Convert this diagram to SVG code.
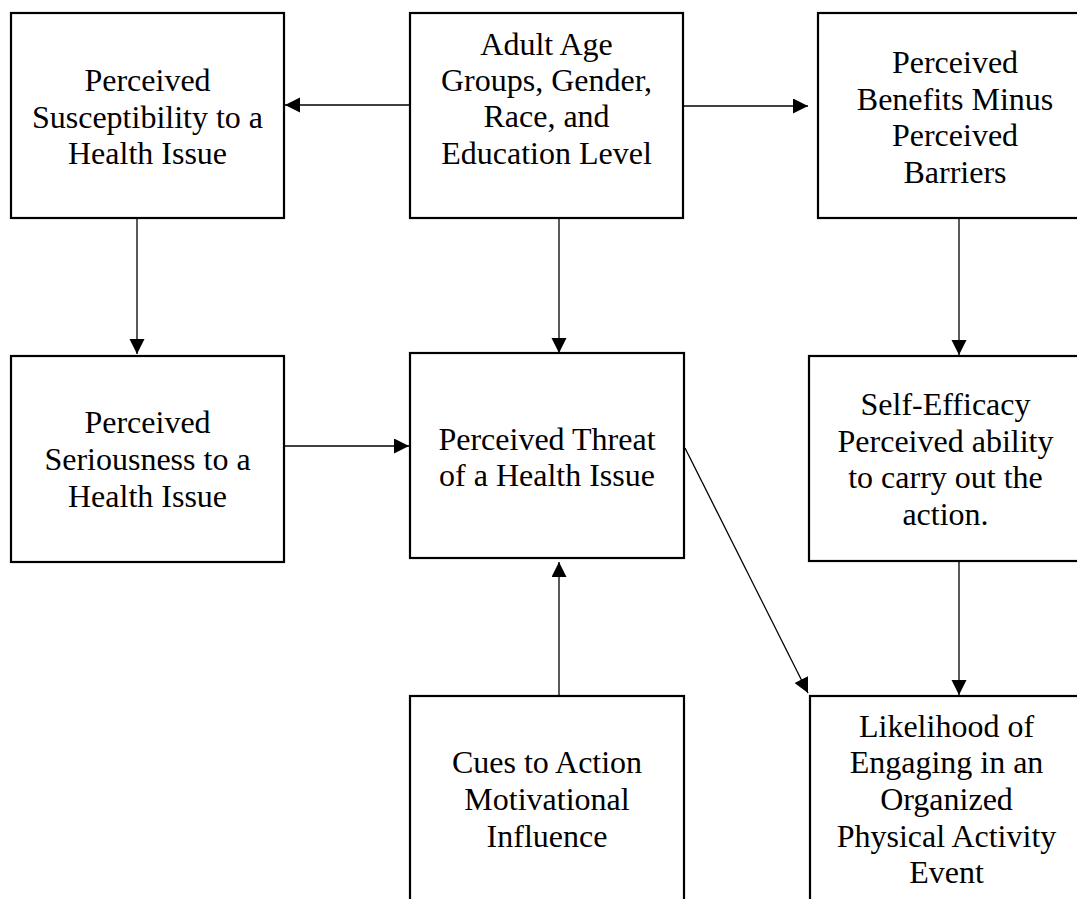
<svg xmlns="http://www.w3.org/2000/svg" width="1077" height="899" viewBox="0 0 1077 899">
<defs>
<style>
.box{fill:#fff;stroke:#000;stroke-width:2.2}
.t{font-family:"Liberation Serif","Times New Roman",serif;font-size:32px;fill:#000;text-anchor:middle}
.c{stroke:#000;stroke-width:1.3;fill:none;marker-end:url(#ah)}
</style>
<marker id="ah" markerUnits="userSpaceOnUse" markerWidth="16" markerHeight="16" refX="15" refY="7.5" orient="auto" viewBox="0 0 16 16">
<path d="M0,0 L15,7.5 L0,15 Z" fill="#000"/>
</marker>
</defs>
<rect width="1077" height="899" fill="#fff"/>
<g id="connectors">
<line class="c" x1="410" y1="105" x2="285" y2="105"/>
<line class="c" x1="683" y1="106" x2="808" y2="106"/>
<line class="c" x1="137" y1="218" x2="137" y2="354"/>
<line class="c" x1="559" y1="218" x2="559" y2="353"/>
<line class="c" x1="959" y1="218" x2="959" y2="355"/>
<line class="c" x1="284" y1="446" x2="409" y2="446"/>
<line class="c" x1="559" y1="696" x2="559" y2="562"/>
<line class="c" x1="959" y1="561" x2="959" y2="695"/>
<line class="c" x1="685" y1="448" x2="808" y2="693"/>
</g>
<g id="susceptibility">
<rect class="box" x="11" y="13" width="273" height="205"/>
<text class="t" x="147.5" y="91">Perceived</text>
<text class="t" x="147.5" y="128">Susceptibility to a</text>
<text class="t" x="147.5" y="164">Health Issue</text>
</g>
<g id="demographics">
<rect class="box" x="410" y="13" width="273" height="205"/>
<text class="t" x="546.5" y="55">Adult Age</text>
<text class="t" x="546.5" y="91">Groups, Gender,</text>
<text class="t" x="546.5" y="127">Race, and</text>
<text class="t" x="546.5" y="164">Education Level</text>
</g>
<g id="benefits">
<rect class="box" x="818" y="13" width="274" height="205"/>
<text class="t" x="955" y="73">Perceived</text>
<text class="t" x="955" y="110">Benefits Minus</text>
<text class="t" x="955" y="146">Perceived</text>
<text class="t" x="955" y="183">Barriers</text>
</g>
<g id="seriousness">
<rect class="box" x="11" y="356" width="273" height="206"/>
<text class="t" x="147.5" y="433">Perceived</text>
<text class="t" x="147.5" y="470">Seriousness to a</text>
<text class="t" x="147.5" y="507">Health Issue</text>
</g>
<g id="threat">
<rect class="box" x="410" y="353" width="274" height="205"/>
<text class="t" x="547" y="450">Perceived Threat</text>
<text class="t" x="547" y="486">of a Health Issue</text>
</g>
<g id="self-efficacy">
<rect class="box" x="809" y="356" width="273" height="205"/>
<text class="t" x="945.5" y="415">Self-Efficacy</text>
<text class="t" x="945.5" y="452">Perceived ability</text>
<text class="t" x="945.5" y="488">to carry out the</text>
<text class="t" x="945.5" y="525">action.</text>
</g>
<g id="cues">
<rect class="box" x="410" y="696" width="274" height="230"/>
<text class="t" x="547" y="773">Cues to Action</text>
<text class="t" x="547" y="810">Motivational</text>
<text class="t" x="547" y="847">Influence</text>
</g>
<g id="likelihood">
<rect class="box" x="810" y="696" width="273" height="230"/>
<text class="t" x="946.5" y="737">Likelihood of</text>
<text class="t" x="946.5" y="773">Engaging in an</text>
<text class="t" x="946.5" y="810">Organized</text>
<text class="t" x="946.5" y="847">Physical Activity</text>
<text class="t" x="946.5" y="883">Event</text>
</g>
</svg>
